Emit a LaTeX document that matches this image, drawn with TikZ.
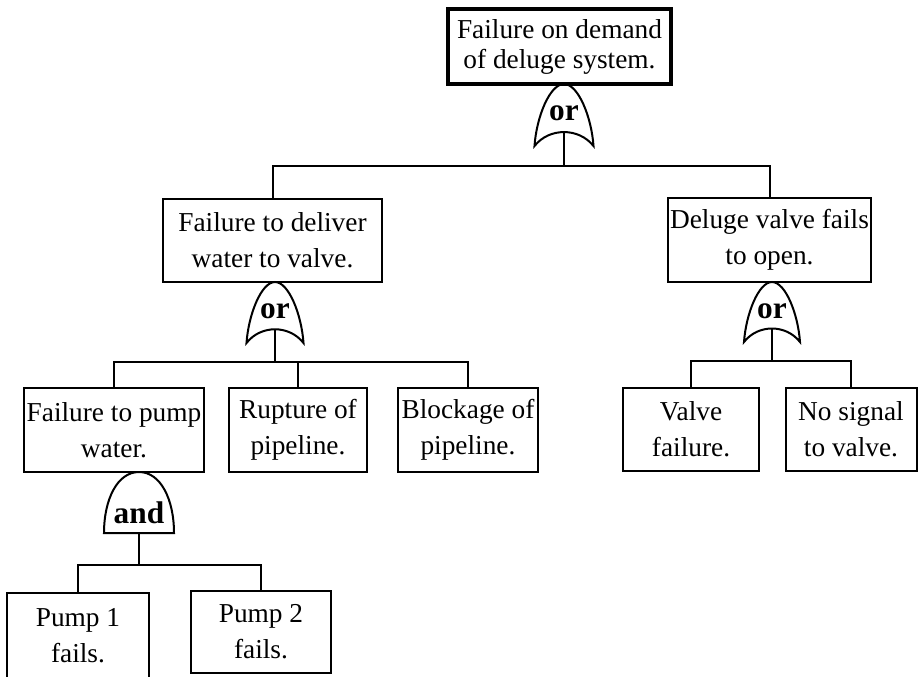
\documentclass[tikz,border=0pt]{standalone}
\usepackage{fontspec}
\setmainfont{Liberation Serif}
\tikzset{
  evbox/.style={draw, line width=1.5pt, inner sep=0pt, align=center,
    font=\fontsize{20.5}{27}\selectfont},
  topbox/.style={evbox, line width=2.6pt, font=\fontsize{20.5}{22.5}\selectfont},
  boxsize/.style 2 args={minimum width={#1*0.75pt}, minimum height={#2*0.75pt}},
  gate/.style={draw, line width=1.5pt},
  conn/.style={draw, line width=1.5pt},
  gatelabel/.style={inner sep=0pt, font=\fontsize{23.5}{28}\selectfont\bfseries}
}
% #1 name, #2 cx, #3 top, #4 bottom, #5 half width
\newcommand\myorgate[5]{%
  \draw[gate] ({#2-#5},#4) .. controls ({#2-#5+2},{#3+0.53*(#4-#3)}) and ({#2-0.48*#5},#3) .. (#2,#3)
    .. controls ({#2+0.48*#5},#3) and ({#2+#5-2},{#3+0.53*(#4-#3)}) .. ({#2+#5},#4)
    .. controls ({#2+0.5*#5},{#4-0.3*(#4-#3)}) and ({#2-0.5*#5},{#4-0.3*(#4-#3)}) .. cycle;
  \coordinate (#1in) at (#2,{#4-0.225*(#4-#3)});
  \node[gatelabel, anchor=base] (#1lab) at (#2,{#3+36.5}) {or};
}
\newcommand\myandgate[5]{%
  \draw[gate] ({#2-#5},#4) .. controls ({#2-#5},{#3+0.45*(#4-#3)}) and ({#2-0.62*#5},#3) .. (#2,#3)
    .. controls ({#2+0.62*#5},#3) and ({#2+#5},{#3+0.45*(#4-#3)}) .. ({#2+#5},#4) -- cycle;
  \coordinate (#1in) at (#2,#4);
  \node[gatelabel, anchor=base] (#1lab) at (#2,{#3+51}) {and};
}
\begin{document}
\begin{tikzpicture}[x=0.75pt, y=-0.75pt]
\useasboundingbox (0,0) rectangle (918,676);

% events
\node[topbox, boxsize={223}{75}] (top) at (559.5,46.5) {Failure on demand\\of deluge system.};
\node[evbox, boxsize={219}{83}] (L1) at (272.5,240.5) {Failure to deliver\\water to valve.};
\node[evbox, boxsize={203}{84}] (R1) at (769.5,240) {Deluge valve fails\\to open.};
\node[evbox, boxsize={180}{84}] (L2a) at (114,430) {Failure to pump\\water.};
\node[evbox, boxsize={138}{84}] (L2b) at (298,430) {Rupture of\\pipeline.};
\node[evbox, boxsize={140}{84}] (L2c) at (468,430) {Blockage of\\pipeline.};
\node[evbox, boxsize={136}{83}] (R2a) at (691,429.5) {Valve\\failure.};
\node[evbox, boxsize={131}{83}] (R2b) at (851,429.5) {No signal\\to valve.};
\node[evbox, boxsize={142}{86}] (P1) at (78,636) {Pump 1\\fails.};
\node[evbox, boxsize={140}{82}] (P2) at (261,632) {Pump 2\\fails.};

% gates
\myorgate{g0}{564}{84}{146}{29.5}
\myorgate{gL}{275}{282}{343}{28.5}
\myorgate{gR}{772}{282}{342}{28}
\myandgate{gA}{139}{472}{533}{35}

% bus points
\coordinate (b0) at (564,166);
\coordinate (bL) at (275,362);
\coordinate (bR) at (772,361);
\coordinate (bA) at (139,565);

% connectors
\draw[conn] (g0in) -- (b0);
\draw[conn] (L1.north) |- (b0) -| (R1.north);
\draw[conn] (gLin) -- (bL);
\draw[conn] (L2a.north) |- (bL) -| (L2c.north);
\draw[conn] (L2b.north) -- (L2b.north |- bL);
\draw[conn] (gRin) -- (bR);
\draw[conn] (R2a.north) |- (bR) -| (R2b.north);
\draw[conn] (gAin) -- (bA);
\draw[conn] (P1.north) |- (bA) -| (P2.north);
\end{tikzpicture}
\end{document}
